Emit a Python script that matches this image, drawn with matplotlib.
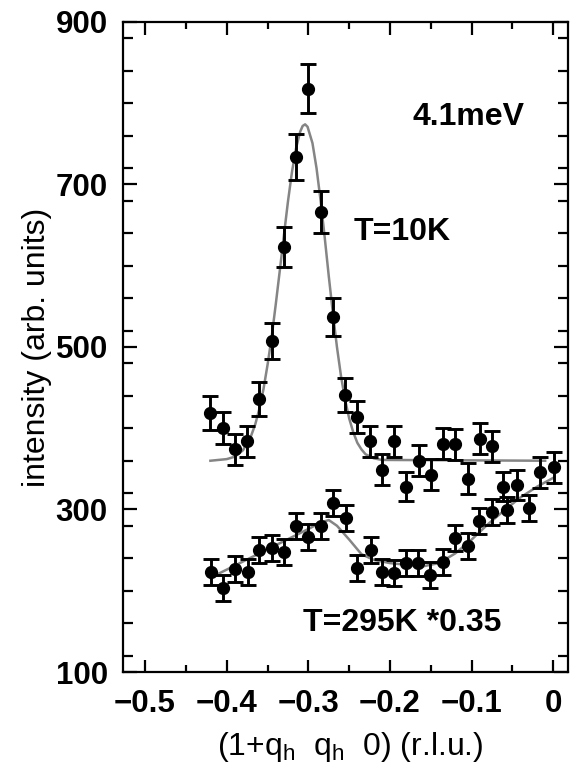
import matplotlib
matplotlib.use("Agg")
import matplotlib.pyplot as plt
from matplotlib.ticker import MultipleLocator

plt.rcParams['font.family'] = ['Liberation Sans', 'DejaVu Sans']
plt.rcParams['mathtext.default'] = 'regular'

# T = 10 K data
x_10K = [-0.420, -0.405, -0.390, -0.375, -0.360, -0.345, -0.330, -0.315, -0.300,
         -0.285, -0.270, -0.255, -0.240, -0.225, -0.210, -0.195, -0.180, -0.165,
         -0.150, -0.135, -0.120, -0.105, -0.090, -0.075, -0.062, -0.045, -0.016, 0.001]
y_10K = [419, 400, 374, 384, 436, 507, 623, 734, 818,
         666, 537, 441, 414, 384, 349, 384, 328, 360,
         343, 381, 380, 338, 387, 378, 328, 330, 346, 352]
e_10K = [21, 20, 19, 19, 21, 22, 25, 28, 30,
         26, 23, 21, 20, 19, 19, 19, 18, 19,
         19, 19, 19, 19, 19, 19, 18, 18, 19, 19]

# T = 295 K data (scaled *0.35)
x_295K = [-0.419, -0.405, -0.390, -0.374, -0.360, -0.345, -0.330, -0.315, -0.300,
          -0.285, -0.270, -0.254, -0.240, -0.223, -0.210, -0.195, -0.180, -0.166,
          -0.151, -0.135, -0.120, -0.105, -0.091, -0.075, -0.057, -0.030]
y_295K = [223, 203, 227, 223, 250, 253, 248, 280, 266,
          280, 308, 290, 228, 250, 223, 222, 234, 234,
          219, 235, 265, 255, 286, 297, 299, 302]
e_295K = [16] * len(x_295K)

# fit curves
fit10_x = [-0.42, -0.40, -0.39, -0.38, -0.37, -0.365, -0.36, -0.355, -0.35, -0.345,
           -0.34, -0.335, -0.33, -0.325, -0.32, -0.315, -0.31, -0.307, -0.304, -0.301,
           -0.295, -0.29, -0.285, -0.28, -0.275, -0.27, -0.265, -0.26, -0.255, -0.25,
           -0.245, -0.24, -0.235, -0.23, -0.22, -0.21, -0.01]
fit10_y = [360, 362, 365, 373, 391, 405, 424, 448, 478, 512,
           552, 594, 637, 679, 716, 745, 765, 772, 774, 771,
           751, 720, 680, 635, 587, 542, 500, 464, 435, 412,
           395, 382, 374, 368, 363, 361, 360]

fit295_x = [-0.42, -0.40, -0.38, -0.36, -0.34, -0.32, -0.30, -0.285, -0.275, -0.265,
            -0.25, -0.235, -0.22, -0.20, -0.18, -0.16, -0.14, -0.12, -0.10, -0.08,
            -0.06, -0.04, -0.02, 0.0]
fit295_y = [216, 226, 236, 246, 256, 266, 276, 284, 287, 280,
            263, 245, 238, 234, 232, 230, 234, 246, 263, 282,
            299, 315, 328, 339]

x_ticks = [-0.5, -0.4, -0.3, -0.2, -0.1, 0.0]
x_ticklabels = ['\u22120.5', '\u22120.4', '\u22120.3', '\u22120.2', '\u22120.1', '0']
y_ticks = [100, 300, 500, 700, 900]

fig = plt.figure(figsize=(5.73, 7.68), dpi=100)
ax = fig.add_axes([0.2147, 0.125, 0.7766, 0.8464])

ax.plot(fit10_x, fit10_y, color='#858585', lw=1.8, zorder=2)
ax.plot(fit295_x, fit295_y, color='#858585', lw=1.8, zorder=2)

eb_kw = dict(fmt='o', color='black', ms=8.5, elinewidth=2.1, capsize=5.6,
             capthick=2.1, zorder=3)
ax.errorbar(x_10K, y_10K, yerr=e_10K, **eb_kw)
ax.errorbar(x_295K, y_295K, yerr=e_295K, **eb_kw)

ax.set_xlim(-0.527, 0.018)
ax.set_ylim(100, 900)
ax.set_xticks(x_ticks)
ax.set_xticklabels(x_ticklabels)
ax.set_yticks(y_ticks)
ax.xaxis.set_minor_locator(MultipleLocator(0.05))
ax.yaxis.set_minor_locator(MultipleLocator(40))

for sp in ax.spines.values():
    sp.set_linewidth(1.6)

ax.tick_params(which='both', direction='in', top=True, right=True, width=1.6)
ax.tick_params(axis='x', which='major', length=9, pad=12)
ax.tick_params(axis='x', which='minor', length=5)
ax.tick_params(axis='y', which='major', length=10, pad=11)
ax.tick_params(axis='y', which='minor', length=7)
for lab in ax.get_xticklabels() + ax.get_yticklabels():
    lab.set_fontsize(22.5)
    lab.set_fontweight('bold')

ax.set_ylabel('intensity (arb. units)', fontsize=23)
ax.yaxis.set_label_coords(-0.16, 0.5)
ax.set_xlabel(r'(1+q$_h$  q$_h$  0) (r.l.u.)', fontsize=23)
ax.xaxis.set_label_coords(0.51, -0.089)

ax.text(-0.173, 783, '4.1meV', fontsize=23, fontweight='bold', ha='left', va='center')
ax.text(-0.245, 642, 'T=10K', fontsize=23, fontweight='bold', ha='left', va='center')
ax.text(-0.307, 160, 'T=295K *0.35', fontsize=23, fontweight='bold', ha='left', va='center')

fig.savefig('out.png', dpi=100, facecolor='white')
